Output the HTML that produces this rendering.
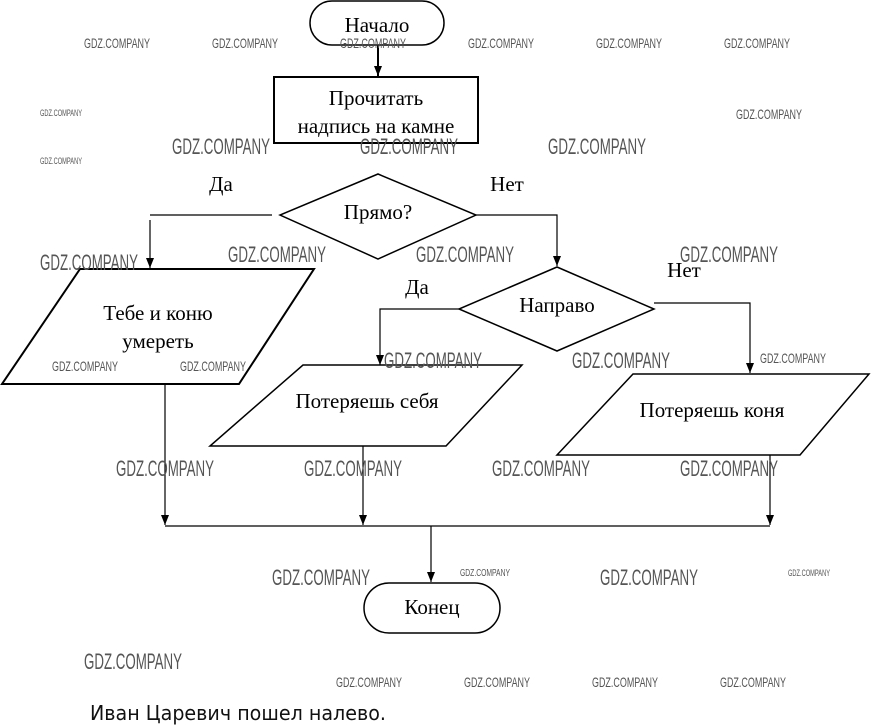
<!DOCTYPE html>
<html><head><meta charset="utf-8"><style>
html,body{margin:0;padding:0;background:#fff;width:871px;height:725px;overflow:hidden}
svg{display:block}
.t{font-family:"Liberation Serif",serif;font-size:21px;fill:#000}
.w{font-family:"Liberation Sans",sans-serif;fill:#555}
</style></head><body>
<svg width="871" height="725" viewBox="0 0 871 725" xmlns="http://www.w3.org/2000/svg">
<defs><marker id="a" markerWidth="10" markerHeight="8" refX="10" refY="4" orient="auto" markerUnits="userSpaceOnUse"><path d="M0,0 L10,4 L0,8 z" fill="#000"/></marker></defs>
<g fill="none" stroke="#000" stroke-width="1.5">
<rect x="310" y="1" width="134" height="44" rx="22"/>
<rect x="274" y="77" width="204" height="66" stroke-width="2"/>
<polygon points="378,174 476,215 378,259 280,215"/>
<polygon points="557,267 654,309 557,351 459,309"/>
<polygon points="80,269 314,269 239,384 2,384" stroke-width="2"/>
<polygon points="303,365 522,365 446,446 210,446"/>
<polygon points="633,374 869,374 800,455 557,455"/>
<rect x="364" y="583" width="136" height="50" rx="25"/>
</g>
<g fill="none" stroke="#000" stroke-width="1.2">
<line x1="378" y1="45" x2="378" y2="76" marker-end="url(#a)" stroke-width="2"/>
<polyline points="272,215 150,215"/>
<line x1="150" y1="220" x2="150" y2="268" marker-end="url(#a)"/>
<polyline points="476,215 557,215 557,266" marker-end="url(#a)"/>
<polyline points="459,309 380,309 380,365" marker-end="url(#a)"/>
<polyline points="654,303 750,303 750,373" marker-end="url(#a)"/>
<line x1="165" y1="384" x2="165" y2="525" marker-end="url(#a)"/>
<line x1="363" y1="446" x2="363" y2="525" marker-end="url(#a)"/>
<line x1="770" y1="455" x2="770" y2="525" marker-end="url(#a)"/>
<line x1="165" y1="526" x2="770" y2="526"/>
<line x1="431" y1="526" x2="431" y2="582" marker-end="url(#a)"/>
</g>
<g class="t" text-anchor="middle">
<text x="377" y="32">Начало</text>
<text x="376" y="105">Прочитать</text>
<text x="376" y="133">надпись на камне</text>
<text x="378" y="219">Прямо?</text>
<text x="557" y="312">Направо</text>
<text x="158" y="320">Тебе и коню</text>
<text x="158" y="348">умереть</text>
<text x="367" y="408">Потеряешь себя</text>
<text x="712" y="417">Потеряешь коня</text>
<text x="432" y="614">Конец</text>
<text x="221" y="191">Да</text>
<text x="507" y="191">Нет</text>
<text x="417" y="294">Да</text>
<text x="684" y="277">Нет</text>
</g>
<g class="w" lengthAdjust="spacingAndGlyphs">
<text x="84" y="48" font-size="14" textLength="66" lengthAdjust="spacingAndGlyphs">GDZ.COMPANY</text>
<text x="212" y="48" font-size="14" textLength="66" lengthAdjust="spacingAndGlyphs">GDZ.COMPANY</text>
<text x="340" y="48" font-size="14" textLength="66" lengthAdjust="spacingAndGlyphs">GDZ.COMPANY</text>
<text x="468" y="48" font-size="14" textLength="66" lengthAdjust="spacingAndGlyphs">GDZ.COMPANY</text>
<text x="596" y="48" font-size="14" textLength="66" lengthAdjust="spacingAndGlyphs">GDZ.COMPANY</text>
<text x="724" y="48" font-size="14" textLength="66" lengthAdjust="spacingAndGlyphs">GDZ.COMPANY</text>
<text x="40" y="116" font-size="9" textLength="42" lengthAdjust="spacingAndGlyphs">GDZ.COMPANY</text>
<text x="40" y="164" font-size="9" textLength="42" lengthAdjust="spacingAndGlyphs">GDZ.COMPANY</text>
<text x="736" y="119" font-size="14" textLength="66" lengthAdjust="spacingAndGlyphs">GDZ.COMPANY</text>
<text x="172" y="154" font-size="22" textLength="98" lengthAdjust="spacingAndGlyphs">GDZ.COMPANY</text>
<text x="360" y="154" font-size="22" textLength="98" lengthAdjust="spacingAndGlyphs">GDZ.COMPANY</text>
<text x="548" y="154" font-size="22" textLength="98" lengthAdjust="spacingAndGlyphs">GDZ.COMPANY</text>
<text x="40" y="270" font-size="22" textLength="98" lengthAdjust="spacingAndGlyphs">GDZ.COMPANY</text>
<text x="228" y="262" font-size="22" textLength="98" lengthAdjust="spacingAndGlyphs">GDZ.COMPANY</text>
<text x="416" y="262" font-size="22" textLength="98" lengthAdjust="spacingAndGlyphs">GDZ.COMPANY</text>
<text x="680" y="262" font-size="22" textLength="98" lengthAdjust="spacingAndGlyphs">GDZ.COMPANY</text>
<text x="52" y="371" font-size="14" textLength="66" lengthAdjust="spacingAndGlyphs">GDZ.COMPANY</text>
<text x="180" y="371" font-size="14" textLength="66" lengthAdjust="spacingAndGlyphs">GDZ.COMPANY</text>
<text x="384" y="368" font-size="22" textLength="98" lengthAdjust="spacingAndGlyphs">GDZ.COMPANY</text>
<text x="572" y="368" font-size="22" textLength="98" lengthAdjust="spacingAndGlyphs">GDZ.COMPANY</text>
<text x="760" y="363" font-size="14" textLength="66" lengthAdjust="spacingAndGlyphs">GDZ.COMPANY</text>
<text x="116" y="476" font-size="22" textLength="98" lengthAdjust="spacingAndGlyphs">GDZ.COMPANY</text>
<text x="304" y="476" font-size="22" textLength="98" lengthAdjust="spacingAndGlyphs">GDZ.COMPANY</text>
<text x="492" y="476" font-size="22" textLength="98" lengthAdjust="spacingAndGlyphs">GDZ.COMPANY</text>
<text x="680" y="476" font-size="22" textLength="98" lengthAdjust="spacingAndGlyphs">GDZ.COMPANY</text>
<text x="272" y="585" font-size="22" textLength="98" lengthAdjust="spacingAndGlyphs">GDZ.COMPANY</text>
<text x="460" y="576" font-size="10" textLength="50" lengthAdjust="spacingAndGlyphs">GDZ.COMPANY</text>
<text x="600" y="585" font-size="22" textLength="98" lengthAdjust="spacingAndGlyphs">GDZ.COMPANY</text>
<text x="788" y="576" font-size="9" textLength="42" lengthAdjust="spacingAndGlyphs">GDZ.COMPANY</text>
<text x="84" y="669" font-size="22" textLength="98" lengthAdjust="spacingAndGlyphs">GDZ.COMPANY</text>
<text x="336" y="687" font-size="14" textLength="66" lengthAdjust="spacingAndGlyphs">GDZ.COMPANY</text>
<text x="464" y="687" font-size="14" textLength="66" lengthAdjust="spacingAndGlyphs">GDZ.COMPANY</text>
<text x="592" y="687" font-size="14" textLength="66" lengthAdjust="spacingAndGlyphs">GDZ.COMPANY</text>
<text x="720" y="687" font-size="14" textLength="66" lengthAdjust="spacingAndGlyphs">GDZ.COMPANY</text>
</g>
<text x="90" y="720" font-family="DejaVu Sans, sans-serif" font-size="20" fill="#111" textLength="296" lengthAdjust="spacingAndGlyphs">Иван Царевич пошел налево.</text>
</svg>
</body></html>
